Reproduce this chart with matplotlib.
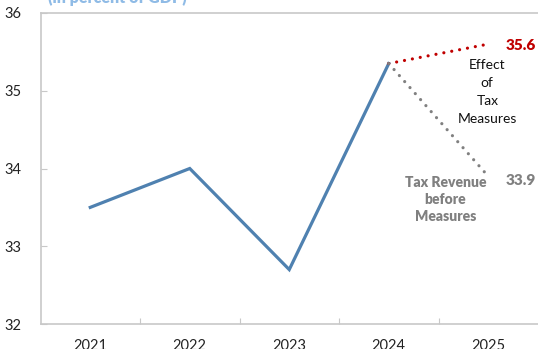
import matplotlib
matplotlib.use('Agg')
import matplotlib.pyplot as plt

plt.rcParams['font.family'] = ['Lato', 'DejaVu Sans']

years = ['2021', '2022', '2023', '2024', '2025']
revenue = [33.5, 34.0, 32.7, 35.35]
with_measures = [35.35, 35.6]
before_measures = [35.35, 33.9]

blue = '#4f81b0'
red = '#c00000'
grey = '#808080'
axis_grey = '#c8c8c8'

fig = plt.figure(figsize=(5.38, 3.49), dpi=100)
ax = fig.add_axes([40.5 / 538, 1 - 324 / 349, 1 - 40.5 / 538, (324 - 13) / 349])

x = list(range(len(years)))

# historical path
ax.plot(x[:4], revenue, color=blue, lw=2.3, solid_joinstyle='miter', zorder=3)

# 2025 projections branching off the 2024 value
ax.plot(x[3:5], with_measures, color=red, lw=2.3, linestyle=(0, (0.01, 2.5)),
        dash_capstyle='round', zorder=3)
ax.plot(x[3:5], before_measures, color=grey, lw=2.3, linestyle=(0, (0.01, 2.5)),
        dash_capstyle='round', zorder=3)

ax.set_xlim(-0.5, 4.5)
ax.set_ylim(32, 36)
ax.set_yticks([32, 33, 34, 35, 36])
ax.set_yticklabels(['32', '33', '34', '35', '36'])

# category labels sit between the tick marks
ax.set_xticks([i + 0.5 for i in range(4)])
ax.set_xticklabels([])
ax.set_xticks(x, minor=True)
ax.set_xticklabels(years, minor=True)
ax.tick_params(axis='x', which='major', direction='in', length=4, color=axis_grey)
ax.tick_params(axis='x', which='minor', length=0, pad=11, labelsize=10.5, labelcolor='#222222')
ax.tick_params(axis='y', direction='in', length=4, color=axis_grey, pad=14,
               labelsize=10.5, labelcolor='#222222')

for side in ['left', 'bottom', 'top']:
    ax.spines[side].set_color(axis_grey)
    ax.spines[side].set_linewidth(1.2)
ax.spines['right'].set_visible(False)

ax.text(4.17, 35.58, f'{with_measures[-1]:.1f}', color=red, fontsize=11,
        fontweight='heavy', ha='left', va='center')
ax.text(3.99, 34.99, 'Effect\nof\nTax\nMeasures', color='#111111', fontsize=10,
        ha='center', va='center', linespacing=1.6)
ax.text(4.17, 33.85, f'{before_measures[-1]:.1f}', color=grey, fontsize=11,
        fontweight='heavy', ha='left', va='center')
ax.text(3.57, 33.6, 'Tax Revenue\nbefore\nMeasures', color=grey, fontsize=10,
        fontweight='heavy', ha='center', va='center', linespacing=1.35)

# subtitle, mostly above the canvas
fig.text(48 / 538, 1 - 3 / 349, '(in percent of GDP)', color='#8fbbe6', fontsize=11.5,
         fontweight='heavy', ha='left', va='baseline')

fig.savefig('out.png', dpi=100)
